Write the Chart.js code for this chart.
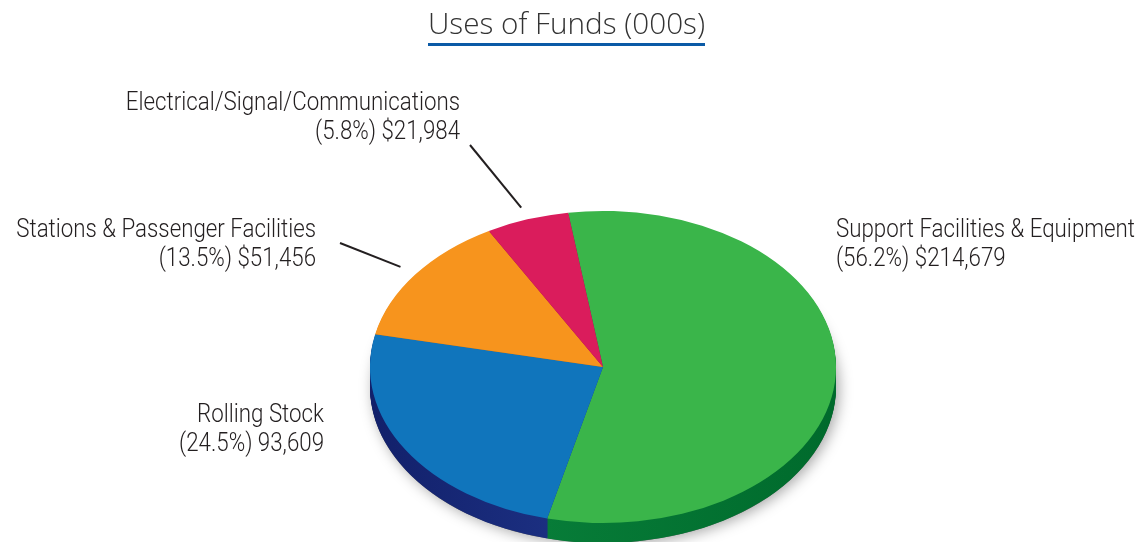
<!DOCTYPE html>
<html>
<head>
<meta charset="utf-8">
<script src="https://cdn.jsdelivr.net/npm/chart.js@4/dist/chart.umd.min.js"></script>
<style>
  html, body { margin: 0; padding: 0; background: #fff; }
</style>
</head>
<body>
<canvas id="grafico" width="1148" height="542"></canvas>
<script>
const titulo = 'Uses of Funds (000s)';
const categorias = ['Support Facilities & Equipment', 'Rolling Stock', 'Stations & Passenger Facilities', 'Electrical/Signal/Communications'];
const valores = [214679, 93609, 51456, 21984];
const prefixos = ['$', '', '$', '$'];

const coresTopo = ['#3ab54a', '#1075bc', '#f7941d', '#da1c5c'];
const coresLado = [['#0b873f', '#006a2c'], ['#12206a', '#2a47a5'], ['#b9650c', '#b9650c'], ['#951040', '#951040']];

// posicao dos rotulos (linha de base da 1a linha) e ponta da linha-guia
const posRotulos = [
  { x: 836, y: 237, align: 'left' },
  { x: 324, y: 422, align: 'right' },
  { x: 316, y: 237, align: 'right', guia: [340, 243] },
  { x: 460, y: 110, align: 'right', guia: [470, 145] }
];

const K = 0.67;        // achatamento da pizza
const CENTRO_Y = 367;  // centro vertical na tela
const PROF = 20;       // espessura 3D
const FONTE = '300 25px Roboto, "Liberation Sans", sans-serif';
let estreito = 1;      // fonte condensada, ajustada pela largura do rotulo maior

const pizza3d = {
  id: 'pizza3d',
  beforeDatasetsDraw(chart) {
    const ctx = chart.ctx;
    const arcs = chart.getDatasetMeta(0).data;
    const cx = arcs[0].x, cy = arcs[0].y, R = arcs[0].outerRadius;
    ctx.save();
    ctx.translate(cx, CENTRO_Y);
    ctx.scale(1, K);
    ctx.translate(-cx, -cy);

    // sombra
    ctx.save();
    ctx.shadowColor = 'rgba(0,0,0,0.35)';
    ctx.shadowBlur = 14;
    ctx.shadowOffsetX = 3;
    ctx.shadowOffsetY = 2;
    ctx.fillStyle = '#666';
    ctx.beginPath();
    ctx.arc(cx, cy + PROF / K, R, 0, Math.PI * 2);
    ctx.fill();
    ctx.restore();

    // lateral
    const grads = coresLado.map(c => {
      const g = ctx.createLinearGradient(cx - R, 0, cx + R, 0);
      g.addColorStop(0, c[0]);
      g.addColorStop(1, c[1]);
      return g;
    });
    for (let d = PROF; d > 0; d--) {
      arcs.forEach((arc, i) => {
        ctx.fillStyle = grads[i];
        ctx.beginPath();
        ctx.moveTo(arc.x, arc.y + d / K);
        ctx.arc(arc.x, arc.y + d / K, arc.outerRadius, arc.startAngle, arc.endAngle);
        ctx.closePath();
        ctx.fill();
      });
    }
  },
  afterDatasetsDraw(chart) {
    chart.ctx.restore();
  }
};

function escreve(ctx, txt, x, y, align) {
  ctx.save();
  ctx.translate(x, y);
  ctx.scale(estreito, 1);
  ctx.textAlign = align;
  ctx.fillText(txt, 0, 0);
  ctx.restore();
}

const rotulos = {
  id: 'rotulos',
  afterDraw(chart) {
    const ctx = chart.ctx;
    const arcs = chart.getDatasetMeta(0).data;
    const total = valores.reduce((a, b) => a + b, 0);
    ctx.save();
    ctx.fillStyle = '#231f20';
    ctx.strokeStyle = '#231f20';
    ctx.lineWidth = 2;
    ctx.textBaseline = 'alphabetic';
    ctx.font = FONTE;
    estreito = 299 / ctx.measureText(categorias[0]).width;
    arcs.forEach((arc, i) => {
      const p = posRotulos[i];
      const pct = (valores[i] / total * 100).toFixed(1);
      const linha2 = `(${pct}%) ${prefixos[i]}${valores[i].toLocaleString('en-US')}`;
      escreve(ctx, categorias[i], p.x, p.y, p.align);
      escreve(ctx, linha2, p.x, p.y + 29, p.align);
      if (p.guia) {
        const meio = (arc.startAngle + arc.endAngle) / 2;
        const r = arc.outerRadius * 1.08;
        ctx.beginPath();
        ctx.moveTo(p.guia[0], p.guia[1]);
        ctx.lineTo(arc.x + r * Math.cos(meio), CENTRO_Y + K * r * Math.sin(meio));
        ctx.stroke();
      }
    });

    // titulo sublinhado
    ctx.font = '300 29px "Open Sans", sans-serif';
    ctx.fillStyle = '#333';
    const larg = ctx.measureText(titulo).width;
    ctx.save();
    ctx.translate(566.5, 34);
    ctx.scale(277 / larg, 1);
    ctx.textAlign = 'center';
    ctx.fillText(titulo, 0, 0);
    ctx.restore();
    ctx.fillStyle = '#0b5aa6';
    ctx.fillRect(428, 43, 277, 3);
    ctx.restore();
  }
};

new Chart(document.getElementById('grafico'), {
  type: 'pie',
  data: {
    labels: categorias,
    datasets: [{
      data: valores,
      backgroundColor: coresTopo,
      borderWidth: 0,
      rotation: -8.6
    }]
  },
  options: {
    responsive: false,
    animation: false,
    events: [],
    layout: { padding: { left: 370, right: 312, top: 38, bottom: 38 } },
    plugins: {
      legend: { display: false },
      tooltip: { enabled: false }
    }
  },
  plugins: [pizza3d, rotulos]
});
</script>
</body>
</html>
